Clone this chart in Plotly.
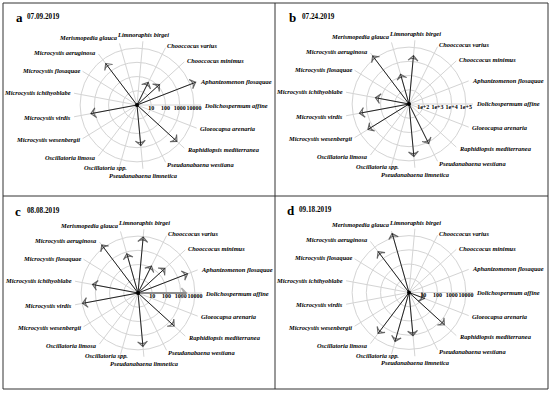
import math
import plotly.graph_objects as go

species = ["Dolichospermum affine", "Aphanizomenon flosaquae", "Chooccocus minimus",
           "Chooccocus varius", "Limnoraphis birgei", "Merismopedia glauca",
           "Microcystis aeruginosa", "Microcystis flosaquae", "Microcystis ichthyoblabe",
           "Microcystis virdis", "Microcystis wesenbergii", "Oscillatoria limosa",
           "Oscillatoria spp.", "Pseudanabaena limnetica", "Pseudanabaena westiana",
           "Raphidiopsis mediterranea", "Gloeocapsa arenaria"]

vals_a = [None, 26000, 140, 60, None, None, 4500, None, None, 2000, None, None, None, 730, None, 6300, None]
vals_b = [None, None, None, None, 26000, 1500, 175000, None, 2500, 35000, 25000, None, None, 51000, 13000, None, None]
vals_c = [2500, 5500, 370, 134, 9000, 750, 17000, None, 1800, 9400, None, None, None, 5900, None, 2750, None]
vals_d = [None, None, None, None, None, 21000, 4000, None, None, None, None, 4000, 3800, 1130, None, 2300, 15]

ticks_a = [10, 100, 1000, 10000]
ticks_b = [100, 1000, 10000, 100000]
ticklab_a = ["10", "100", "1000", "10000"]
ticklab_b = ["1e+2", "1e+3", "1e+4", "1e+5"]

panel_letters = ["a", "b", "c", "d"]
panel_dates = ["07.09.2019", "07.24.2019", "08.08.2019", "09.18.2019"]
highlight = {"c": "Dolichospermum affine"}

W, H = 550, 393
SERIF = "Liberation Serif"
GRID = "#d4d4d4"
ARROW = "#222222"
LABEL_R = 66          # px from centre for species labels
label_nudge = {"Oscillatoria spp.": (9, -5)}   # px, label placement tweak

panels = [
    dict(key="a", vals=vals_a, center=1, rmax=10 ** 4.5, ticks=ticks_a, labs=ticklab_a, c=(137, 105), title=(14, 25, 17)),
    dict(key="b", vals=vals_b, center=10, rmax=10 ** 5.5, ticks=ticks_b, labs=ticklab_b, c=(409, 104), title=(287, 300, 17)),
    dict(key="c", vals=vals_c, center=1, rmax=10 ** 4.5, ticks=ticks_a, labs=ticklab_a, c=(138, 293), title=(13, 25, 211)),
    dict(key="d", vals=vals_d, center=1, rmax=10 ** 4.5, ticks=ticks_a, labs=ticklab_a, c=(409, 292.5), title=(285, 297, 210)),
]

R_PX = 64
fig = go.Figure()
layout = dict(width=W, height=H, margin=dict(l=0, r=0, t=0, b=0),
              paper_bgcolor="white", plot_bgcolor="white", showlegend=False,
              shapes=[], annotations=[])

label_font = dict(family=SERIF, size=6.4, color="black", style="italic", weight="bold")

for i, p in enumerate(panels):
    pname = "polar" if i == 0 else f"polar{i + 1}"
    sub = pname
    cx, cy = p["c"]
    layout[pname] = dict(
        domain=dict(x=[(cx - R_PX) / W, (cx + R_PX) / W],
                    y=[1 - (cy + R_PX) / H, 1 - (cy - R_PX) / H]),
        bgcolor="white",
        radialaxis=dict(type="log", range=[math.log10(p["center"]), math.log10(p["rmax"])],
                        tickvals=p["ticks"], showticklabels=False, ticks="",
                        showline=False, gridcolor=GRID, gridwidth=1),
        angularaxis=dict(type="category", categoryarray=species, rotation=0,
                         direction="counterclockwise", showline=False, ticks="",
                         showticklabels=False, gridcolor=GRID, gridwidth=1),
    )
    # species labels around the wheel
    n = len(species)
    for k, sp in enumerate(species):
        ang = math.radians(k * 360.0 / n)
        c, s = math.cos(ang), math.sin(ang)
        lx = cx + LABEL_R * c
        ly = cy - LABEL_R * s
        ddx, ddy = label_nudge.get(sp, (0, 0))
        lx += ddx
        ly += ddy
        xa = "left" if c > 0.2 else ("right" if c < -0.2 else "center")
        ya = "bottom" if s > 0.9 else ("top" if s < -0.9 else "middle")
        layout["annotations"].append(dict(
            x=lx / W, y=1 - ly / H, xref="paper", yref="paper", xanchor=xa, yanchor=ya,
            text=sp, showarrow=False, font=label_font, borderpad=0))
    # radial tick labels
    fig.add_trace(go.Scatterpolar(
        r=p["ticks"], theta=[species[0]] * len(p["ticks"]), text=p["labs"],
        mode="text", textposition="bottom center",
        textfont=dict(family=SERIF, size=6, color="black", weight="bold"),
        subplot=sub, hoverinfo="skip", cliponaxis=False))
    # arrows
    for sp, v in zip(species, p["vals"]):
        if v is None:
            continue
        is_hi = highlight.get(p["key"]) == sp
        col = "#8c8c8c" if is_hi else ARROW
        fig.add_trace(go.Scatterpolar(
            r=[p["center"], v], theta=[sp, sp], mode="lines+markers",
            line=dict(color=col, width=2 if is_hi else 1),
            marker=dict(symbol=["circle", "arrow-wide-open"], size=[0, 7],
                        angleref="previous", color=col,
                        line=dict(color=col, width=1.6 if is_hi else 1.1)),
            subplot=sub, hoverinfo="skip", cliponaxis=False))
    # centre dot
    fig.add_trace(go.Scatterpolar(
        r=[p["center"]], theta=[species[0]], mode="markers",
        marker=dict(size=4, color="black"), subplot=sub, hoverinfo="skip"))
    # titles
    tx, dx, ty = p["title"]
    layout["annotations"].append(dict(
        x=tx / W, y=1 - ty / H, xref="paper", yref="paper", xanchor="left", yanchor="middle",
        text=panel_letters[i], showarrow=False,
        font=dict(family=SERIF, size=13, color="black", weight="bold")))
    layout["annotations"].append(dict(
        x=dx / W, y=1 - ty / H, xref="paper", yref="paper", xanchor="left", yanchor="middle",
        text=panel_dates[i], showarrow=False,
        font=dict(family=SERIF, size=7.2, color="black", weight="bold")))


def px(x):
    return x / W


def py(y):
    return 1 - y / H


line_style = dict(color="#333333", width=1)
layout["shapes"] += [
    dict(type="rect", xref="paper", yref="paper", x0=px(3), x1=px(548), y0=py(389), y1=py(3), line=line_style),
    dict(type="line", xref="paper", yref="paper", x0=px(275), x1=px(275), y0=py(389), y1=py(3), line=line_style),
    dict(type="line", xref="paper", yref="paper", x0=px(3), x1=px(548), y0=py(196), y1=py(196), line=line_style),
]

fig.update_layout(**layout)
fig.write_html("out.html", config={"displayModeBar": False},
               post_script="document.body.style.margin='0';document.body.style.overflow='hidden';")
